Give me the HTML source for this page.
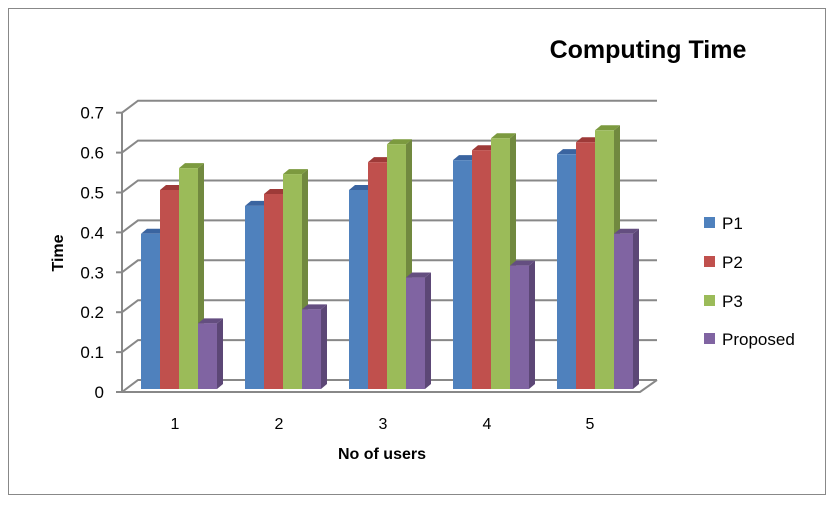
<!DOCTYPE html>
<html><head><style>body{margin:0;background:#fff}</style></head><body>
<svg width="834" height="502" xmlns="http://www.w3.org/2000/svg" font-family="Liberation Sans, sans-serif">
<rect x="0" y="0" width="834" height="502" fill="#fff"/>
<rect x="8.5" y="8.5" width="817" height="486" fill="none" stroke="#888" stroke-width="1"/>
<text x="648" y="58" font-size="25" font-weight="bold" text-anchor="middle" fill="#000">Computing Time</text>
<g stroke="#888" stroke-width="2" fill="none" id="grid"></g>
<g id="bars"></g>
<g font-size="17" fill="#000" text-anchor="end" id="ylab"></g>
<g font-size="16" fill="#000" text-anchor="middle">
<text x="175" y="429">1</text><text x="279" y="429">2</text><text x="383" y="429">3</text><text x="487" y="429">4</text><text x="590" y="429">5</text>
</g>
<text x="382" y="459" font-size="16" font-weight="bold" text-anchor="middle">No of users</text>
<text transform="translate(63,253) rotate(-90)" font-size="16" font-weight="bold" text-anchor="middle">Time</text>
<g font-size="17">
<rect x="704" y="217" width="11" height="11" fill="#4F81BD"/><text x="722" y="229">P1</text>
<rect x="704" y="256" width="11" height="11" fill="#C0504D"/><text x="722" y="268">P2</text>
<rect x="704" y="295" width="11" height="11" fill="#9BBB59"/><text x="722" y="307">P3</text>
<rect x="704" y="333" width="11" height="11" fill="#8064A2"/><text x="722" y="345">Proposed</text>
</g>
<script>
(function(){
var ns="http://www.w3.org/2000/svg";
function el(p,t,a){var e=document.createElementNS(ns,t);for(var k in a)e.setAttribute(k,a[k]);p.appendChild(e);return e;}
var gr=document.getElementById('grid'),yl=document.getElementById('ylab');
for(var i=0;i<=7;i++){var yf=392-i*39.9,yb=yf-12;
 el(gr,'path',{d:'M122 '+yf+' L138 '+yb+' L657 '+yb});
 el(gr,'line',{x1:116,y1:yf,x2:122,y2:yf});
 var t=el(yl,'text',{x:104,y:yf+6});t.textContent=i==0?'0':(i/10).toFixed(1);}
el(gr,'line',{x1:122,y1:392,x2:122,y2:113});
el(gr,'path',{d:'M122 392 L640 392 L657 380'});
var b=document.getElementById('bars');
var vals=[[.39,.5,.555,.165],[.46,.49,.54,.2],[.5,.57,.615,.28],[.575,.6,.63,.31],[.59,.62,.65,.39]];
var cols=[['#4F81BD','#385D8A','#3A64A0'],['#C0504D','#8C3836','#9E3A38'],['#9BBB59','#71893F','#7C9A3F'],['#8064A2','#5C4776','#644E80']];
for(var gI=0;gI<5;gI++)for(var s=0;s<4;s++){
 var x=141+gI*104+s*19,w=19,base=389,h=vals[gI][s]*398,tp=base-h,dx=6,dy=5;
 el(b,'polygon',{points:(x+w)+','+base+' '+(x+w+dx)+','+(base-dy)+' '+(x+w+dx)+','+(tp-dy)+' '+(x+w)+','+tp,fill:cols[s][1]});
 el(b,'polygon',{points:x+','+tp+' '+(x+dx)+','+(tp-dy)+' '+(x+w+dx)+','+(tp-dy)+' '+(x+w)+','+tp,fill:cols[s][2]});
 el(b,'rect',{x:x,y:tp,width:w,height:h,fill:cols[s][0]});
}
})();
</script>
</svg>
</body></html>
